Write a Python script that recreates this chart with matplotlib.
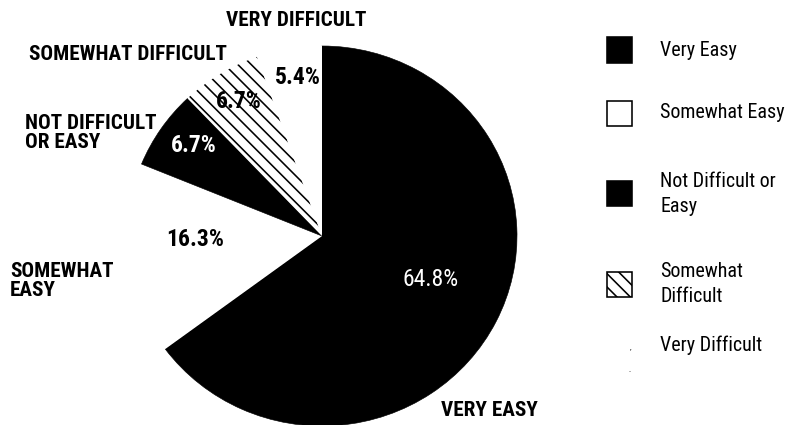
import os
import matplotlib
matplotlib.use("Agg")
import matplotlib.pyplot as plt
from matplotlib.patches import Rectangle
from matplotlib import font_manager as fm

categories = ["Very Easy", "Somewhat Easy", "Not Difficult or Easy",
              "Somewhat Difficult", "Very Difficult"]
legend_labels = ["Very Easy", "Somewhat Easy", "Not Difficult or\nEasy",
                 "Somewhat\nDifficult", "Very Difficult"]
slice_labels = ["VERY EASY", "SOMEWHAT\nEASY", "NOT DIFFICULT\nOR EASY",
                "SOMEWHAT DIFFICULT", "VERY DIFFICULT"]
values = [64.8, 16.3, 6.7, 6.7, 5.4]
facecolors = ["black", "white", "black", "white", "white"]
hatches = [None, None, None, "\\", None]
pct_colors = ["white", "black", "white", "black", "black"]

# ---- font selection: prefer a condensed sans ----
PREFS_BOLD = ["notosans-condensedbold", "robotocondensed-bold",
              "opensans_condensed-bold", "opensanscondensed-bold",
              "liberationsansnarrow-bold", "dejavusanscondensed-bold"]
PREFS_REG = ["notosans-condensed.", "notosans-condensedregular",
             "robotocondensed-regular", "opensans_condensed-regular",
             "opensanscondensed-regular", "liberationsansnarrow-regular",
             "dejavusanscondensed."]


def find_file(prefs):
    files = {os.path.basename(f.fname).lower(): f.fname
             for f in fm.fontManager.ttflist}
    for p in prefs:
        for b, path in files.items():
            if b.startswith(p):
                return path
    return None


bold_file = find_file(PREFS_BOLD)
reg_file = find_file(PREFS_REG) or bold_file


def fp(size, bold):
    path = bold_file if bold else reg_file
    if path:
        return fm.FontProperties(fname=path, size=size)
    return fm.FontProperties(family="DejaVu Sans", size=size,
                             weight="bold" if bold else "normal")


W, H = 786, 425
DPI = 40  # hatch spacing is tied to dpi: 40 dpi gives ~6.7 px spacing


def pt(px):
    return px * 72.0 / DPI


plt.rcParams["hatch.linewidth"] = pt(1.6)
fig = plt.figure(figsize=(W / DPI, H / DPI), dpi=DPI)


def fx(x):
    return x / W


def fy(y):
    return 1 - y / H


# pie geometry in pixels
cx, cy, rx, ry = 322, 236, 195, 190
ax = fig.add_axes([fx(cx - rx), fy(cy + ry), 2 * rx / W, 2 * ry / H])
wedges, _ = ax.pie(values, startangle=90, counterclock=False, radius=1,
                   colors=facecolors, wedgeprops=dict(linewidth=0))
for w, fc, h in zip(wedges, facecolors, hatches):
    if fc == "black":
        w.set_edgecolor("black")
        w.set_linewidth(pt(0.6))
    else:
        w.set_edgecolor("black")
        w.set_linewidth(0)
    w.set_joinstyle("round")
    if h:
        w.set_hatch(h)
ax.set_aspect("auto")
ax.set_xlim(-1, 1)
ax.set_ylim(-1, 1)
ax.axis("off")

groups = {"cat": [], "pct": [], "leg": []}
boost = {"cat": 1.1, "pct": 1.12, "leg": 1.0}

# category labels (pixel positions, target widths)
cat_pos = [(489, 410, "center", 88), (10, 281, "left", 98),
           (25, 133, "left", 115), (29, 54, "left", 177),
           (296, 21, "center", 125)]
for lab, (x, y, ha, tw) in zip(slice_labels, cat_pos):
    t = fig.text(fx(x), fy(y), lab, ha=ha, va="center",
                 fontproperties=fp(20, True), linespacing=0.95)
    groups["cat"].append((t, tw))

# percentage labels
pct_pos = [(431, 279, 47), (195, 239, 60), (194, 146, 38), (239, 102, 44),
           (298, 77, 39)]
pct_bold = [False, True, True, True, True]
for v, (x, y, tw), c, b in zip(values, pct_pos, pct_colors, pct_bold):
    t = fig.text(fx(x), fy(y), f"{v:.1f}%", ha="center", va="center",
                 color=c, fontproperties=fp(24, b))
    groups["pct"].append((t, tw))

# legend (manual)
leg_y = [50, 113, 194, 284, 345]
leg_w = [79, 125, 120, 85, 95]
sq = 25
for i, (lab, y, fc, h, tw) in enumerate(zip(legend_labels, leg_y,
                                            facecolors, hatches, leg_w)):
    if i == 4:
        fig.text(fx(631), fy(y + 6), "\u2019", ha="center", va="center",
                 fontproperties=fp(pt(8), False))
        fig.text(fx(630), fy(y + 25), "..", ha="center", va="center",
                 fontproperties=fp(pt(6), False))
    else:
        rect = Rectangle((fx(607), fy(y + sq / 2)), sq / W, sq / H,
                         transform=fig.transFigure, facecolor=fc,
                         edgecolor="black", linewidth=pt(1.6), hatch=h)
        fig.patches.append(rect)
    t = fig.text(fx(660), fy(y), lab, ha="left", va="center",
                 fontproperties=fp(22, False), linespacing=1.35)
    groups["leg"].append((t, tw))

# scale each text group so its widths match the reference on average
renderer = fig.canvas.get_renderer()
for name, items in groups.items():
    ratios = [tw / t.get_window_extent(renderer).width for t, tw in items]
    k = boost[name] * sum(ratios) / len(ratios)
    for t, _ in items:
        t.set_fontsize(t.get_fontsize() * k)

fig.savefig("out.png", dpi=DPI)
